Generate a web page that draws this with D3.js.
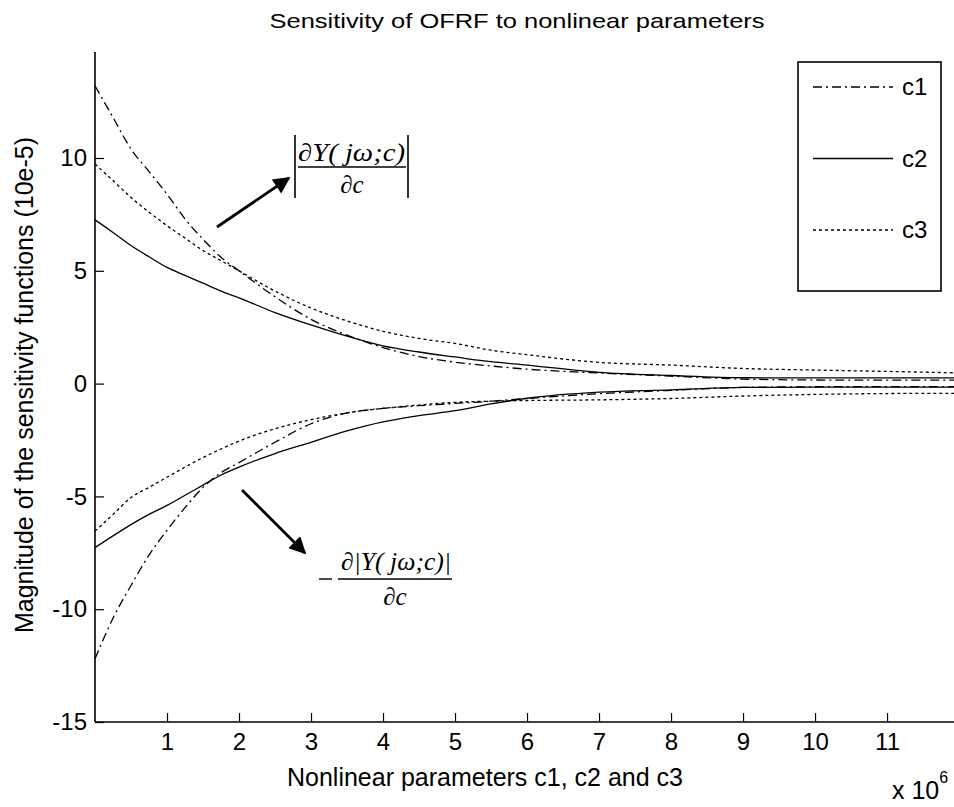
<!DOCTYPE html>
<html>
<head>
<meta charset="utf-8">
<script src="https://cdn.jsdelivr.net/npm/d3@7"></script>
<style>
  body { margin: 0; background: #fff; }
  text { font-family: "Liberation Sans", Arial, sans-serif; fill: #000; }
  .math { font-family: "Liberation Serif", "Times New Roman", serif; font-style: italic; font-size: 25px; }
</style>
</head>
<body>
<div id="container"></div>
<script>
// values in units of 1e6 (x) and 1e-5 (y)
const xValues = [0, 0.25, 0.5, 0.75, 1, 1.25, 1.5, 1.75, 2, 2.5, 3, 3.5, 4, 4.5, 5, 5.5, 6, 7, 8, 9, 10, 11, 11.93];
const c1Upper = [13.2, 11.8, 10.4, 9.4, 8.4, 7.3, 6.4, 5.6, 5.0, 3.85, 2.85, 2.15, 1.6, 1.2, 0.95, 0.78, 0.64, 0.47, 0.33, 0.2, 0.16, 0.15, 0.15];
const c2Upper = [7.26, 6.7, 6.12, 5.62, 5.15, 4.8, 4.45, 4.1, 3.8, 3.15, 2.6, 2.1, 1.67, 1.4, 1.18, 0.97, 0.82, 0.5, 0.36, 0.26, 0.25, 0.25, 0.25];
const c3Upper = [9.73, 9.0, 8.25, 7.6, 7.0, 6.45, 5.9, 5.45, 5.0, 4.1, 3.35, 2.78, 2.32, 2.0, 1.78, 1.48, 1.28, 0.94, 0.82, 0.67, 0.6, 0.54, 0.48];
const c1Lower = [-12.2, -10.4, -8.95, -7.6, -6.5, -5.5, -4.6, -3.95, -3.5, -2.6, -1.78, -1.3, -1.1, -0.98, -0.88, -0.78, -0.66, -0.45, -0.3, -0.17, -0.14, -0.13, -0.13];
const c2Lower = [-7.27, -6.75, -6.25, -5.8, -5.4, -4.95, -4.5, -4.05, -3.7, -3.1, -2.6, -2.1, -1.7, -1.42, -1.2, -0.9, -0.65, -0.38, -0.28, -0.17, -0.16, -0.16, -0.16];
const c3Lower = [-6.54, -5.8, -5.05, -4.6, -4.15, -3.7, -3.28, -2.9, -2.55, -2.0, -1.6, -1.3, -1.1, -0.95, -0.83, -0.78, -0.75, -0.72, -0.66, -0.55, -0.48, -0.44, -0.43];
const xTicks = [1, 2, 3, 4, 5, 6, 7, 8, 9, 10, 11];
const yTicks = [-15, -10, -5, 0, 5, 10];
const seriesNames = ['c1', 'c2', 'c3'];

const W = 954, H = 807;
const dashes = { c1: '9,4,2,4', c2: null, c3: '3,3' };

const svg = d3.select('#container')
    .append('svg')
    .attr('width', W)
    .attr('height', H);

const x = d3.scaleLinear().domain([0, 11.93]).range([95, 954]);
const y = d3.scaleLinear().domain([-15, 10]).range([722, 158]);

const line = d3.line()
    .x(function (d) { return x(d[0]); })
    .y(function (d) { return y(d[1]); })
    .curve(d3.curveMonotoneX);

const curves = [
    ['c1', c1Upper], ['c2', c2Upper], ['c3', c3Upper],
    ['c1', c1Lower], ['c2', c2Lower], ['c3', c3Lower]
];

curves.forEach(function (c) {
    svg.append('path')
        .datum(xValues.map(function (v, i) { return [v, c[1][i]]; }))
        .attr('d', line)
        .attr('fill', 'none')
        .attr('stroke', '#000')
        .attr('stroke-width', 1.3)
        .attr('stroke-dasharray', dashes[c[0]]);
});

// axes, ticks pointing inward
const xAxis = d3.axisBottom(x).tickValues(xTicks).tickSize(-9).tickPadding(11).tickFormat(function (d) { return String(d); });
const yAxis = d3.axisLeft(y).tickValues(yTicks).tickSize(-9).tickPadding(8).tickFormat(function (d) { return String(d); });

const gx = svg.append('g')
    .attr('transform', 'translate(0,' + y(-15) + ')')
    .call(xAxis);
gx.select('.domain').attr('d', 'M95,0H954').attr('stroke-width', 1.6);

const gy = svg.append('g')
    .attr('transform', 'translate(' + x(0) + ',0)')
    .call(yAxis);
gy.select('.domain').attr('d', 'M0,52V' + y(-15)).attr('stroke-width', 1.6);

svg.selectAll('.tick text')
    .attr('font-size', 24)
    .attr('font-family', '"Liberation Sans", Arial, sans-serif');
svg.selectAll('.tick line').attr('stroke-width', 1.2);

// titles
svg.append('text')
    .attr('x', 517).attr('y', 28)
    .style('text-anchor', 'middle')
    .style('font-size', '21px')
    .attr('textLength', 495)
    .attr('lengthAdjust', 'spacingAndGlyphs')
    .text('Sensitivity of OFRF to nonlinear parameters');

svg.append('text')
    .attr('x', 485).attr('y', 786)
    .style('text-anchor', 'middle')
    .style('font-size', '25px')
    .text('Nonlinear parameters c1, c2 and c3');

svg.append('text')
    .attr('transform', 'translate(33,385) rotate(-90)')
    .style('text-anchor', 'middle')
    .style('font-size', '25px')
    .text('Magnitude of the sensitivity functions (10e-5)');

const expo = svg.append('text')
    .attr('x', 892).attr('y', 799)
    .style('font-size', '25px');
expo.append('tspan').text('x 10');
expo.append('tspan').attr('dy', -16).style('font-size', '16px').text('6');

// legend
const legend = svg.append('g').attr('id', 'legend');
legend.append('rect')
    .attr('x', 798).attr('y', 62)
    .attr('width', 143).attr('height', 229)
    .attr('fill', '#fff')
    .attr('stroke', '#000')
    .attr('stroke-width', 1.6);

const legendY = d3.scalePoint().domain(seriesNames).range([87, 230]);
const item = legend.selectAll('.legend-label')
    .data(seriesNames)
    .enter()
    .append('g')
    .attr('class', 'legend-label')
    .attr('transform', function (d) { return 'translate(0,' + legendY(d) + ')'; });
item.append('line')
    .attr('x1', 813).attr('x2', 893)
    .attr('stroke', '#000')
    .attr('stroke-width', 1.3)
    .attr('stroke-dasharray', function (d) { return dashes[d]; });
item.append('text')
    .attr('x', 902).attr('y', 8)
    .style('font-size', '24px')
    .text(function (d) { return d; });

// arrows and formulas
const defs = svg.append('defs');
defs.append('marker')
    .attr('id', 'arrow')
    .attr('viewBox', '0 0 10 10')
    .attr('refX', 9).attr('refY', 5)
    .attr('markerWidth', 7).attr('markerHeight', 6)
    .attr('markerUnits', 'strokeWidth')
    .attr('orient', 'auto')
    .append('path')
    .attr('d', 'M0,0L10,5L0,10z')
    .attr('fill', '#000');

svg.append('line')
    .attr('x1', 217).attr('y1', 227).attr('x2', 289).attr('y2', 178)
    .attr('stroke', '#000').attr('stroke-width', 2.8)
    .attr('marker-end', 'url(#arrow)');
svg.append('line')
    .attr('x1', 242).attr('y1', 490).attr('x2', 305).attr('y2', 553)
    .attr('stroke', '#000').attr('stroke-width', 2.8)
    .attr('marker-end', 'url(#arrow)');

// upper formula |dY(jw;c)/dc|
const f1 = svg.append('g');
f1.append('line').attr('x1', 295).attr('x2', 295).attr('y1', 135).attr('y2', 198).attr('stroke', '#000').attr('stroke-width', 1.6);
f1.append('line').attr('x1', 408).attr('x2', 408).attr('y1', 135).attr('y2', 198).attr('stroke', '#000').attr('stroke-width', 1.6);
f1.append('line').attr('x1', 298).attr('x2', 406).attr('y1', 167).attr('y2', 167).attr('stroke', '#000').attr('stroke-width', 1.3);
f1.append('text').attr('class', 'math').attr('x', 298).attr('y', 161)
    .attr('textLength', 107).attr('lengthAdjust', 'spacingAndGlyphs')
    .text('\u2202Y( j\u03c9;c)');
f1.append('text').attr('class', 'math').attr('x', 352).attr('y', 193).style('text-anchor', 'middle').text('\u2202c');

// lower formula -d|Y(jw;c)|/dc
const f2 = svg.append('g');
f2.append('line').attr('x1', 319).attr('x2', 332).attr('y1', 579).attr('y2', 579).attr('stroke', '#000').attr('stroke-width', 1.4);
f2.append('line').attr('x1', 338).attr('x2', 452).attr('y1', 579).attr('y2', 579).attr('stroke', '#000').attr('stroke-width', 1.3);
f2.append('text').attr('class', 'math').attr('x', 341).attr('y', 570)
    .attr('textLength', 110).attr('lengthAdjust', 'spacingAndGlyphs')
    .text('\u2202|Y( j\u03c9;c)|');
f2.append('text').attr('class', 'math').attr('x', 395).attr('y', 605).style('text-anchor', 'middle').text('\u2202c');
</script>
</body>
</html>
